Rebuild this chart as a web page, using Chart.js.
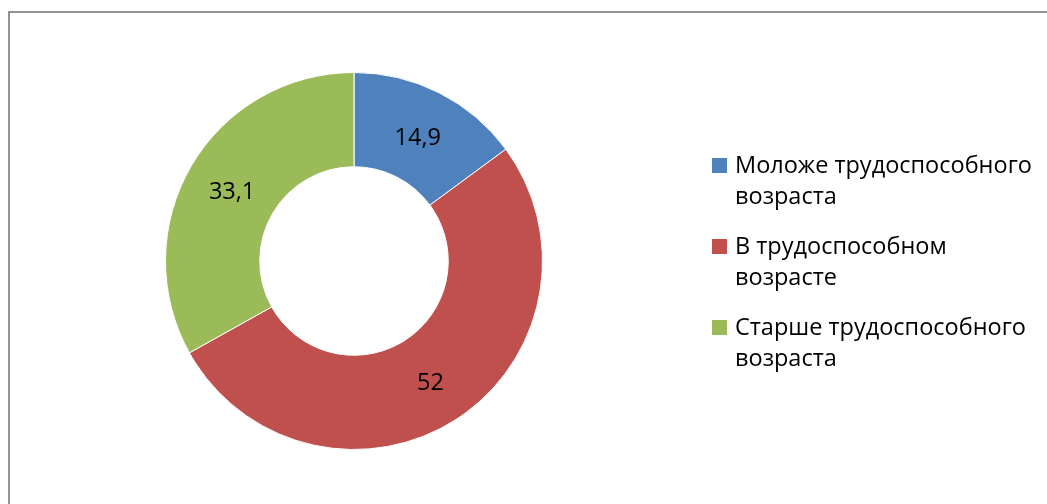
<!DOCTYPE html>
<html>
<head>
<meta charset="utf-8">
<script src="https://cdn.jsdelivr.net/npm/chart.js@4"></script>
<style>
  html, body { margin: 0; padding: 0; background: #fff; overflow: hidden; }
  #wrap { position: relative; width: 1047px; height: 504px; }
  #frame { position: absolute; left: 8px; top: 11px; width: 1100px; height: 600px;
           border: 2px solid #939393; box-sizing: border-box; }
  #box { position: absolute; left: 0; top: 0; width: 1047px; height: 504px; }
</style>
</head>
<body>
<div id="wrap">
  <div id="frame"></div>
  <div id="box"><canvas id="myChart"></canvas></div>
</div>
<script>
let labels = [
    ['Моложе трудоспособного', 'возраста'],
    ['В трудоспособном', 'возрасте'],
    ['Старше трудоспособного', 'возраста']
];
let values = [14.9, 52, 33.1];
let colorHex = ['#4F81BD', '#C0504D', '#9BBB59'];

let fontFamily = '"Open Sans", sans-serif';
let fontSize = 23.5;

// labels on the slices, comma as decimal mark
let sliceLabels = {
    id: 'sliceLabels',
    afterDatasetsDraw(chart) {
        let ctx = chart.ctx;
        let meta = chart.getDatasetMeta(0);
        ctx.save();
        ctx.font = fontSize + 'px ' + fontFamily;
        ctx.fillStyle = '#000';
        ctx.textAlign = 'center';
        ctx.textBaseline = 'middle';
        meta.data.forEach((arc, i) => {
            let p = arc.getCenterPoint();
            let txt = String(chart.data.datasets[0].data[i]).replace('.', ',');
            ctx.fillText(txt, p.x, p.y + 3);
        });
        ctx.restore();
    }
};

// legend on the right, two lines per item
let sideLegend = {
    id: 'sideLegend',
    afterDraw(chart) {
        let ctx = chart.ctx;
        let x = 712, y = 166, step = 81, lineH = 31;
        ctx.save();
        ctx.font = fontSize + 'px ' + fontFamily;
        ctx.textBaseline = 'middle';
        chart.data.labels.forEach((lab, i) => {
            let yy = y + i * step;
            ctx.fillStyle = colorHex[i];
            ctx.fillRect(x, yy - 8, 15, 15);
            ctx.fillStyle = '#000';
            lab.forEach((line, j) => {
                ctx.fillText(line, x + 23, yy + j * lineH);
            });
        });
        ctx.restore();
    }
};

let ctx = document.getElementById('myChart').getContext('2d');
let myChart = new Chart(ctx, {
    type: 'doughnut',
    data: {
        labels: labels,
        datasets: [{
            data: values,
            backgroundColor: colorHex,
            borderColor: '#fff',
            borderWidth: 1
        }]
    },
    options: {
        responsive: true,
        maintainAspectRatio: false,
        animation: false,
        cutout: '50%',
        layout: {
            padding: { left: 165, right: 504, top: 72, bottom: 54 }
        },
        plugins: {
            legend: { display: false },
            tooltip: { enabled: false }
        }
    },
    plugins: [sliceLabels, sideLegend]
});
</script>
</body>
</html>
